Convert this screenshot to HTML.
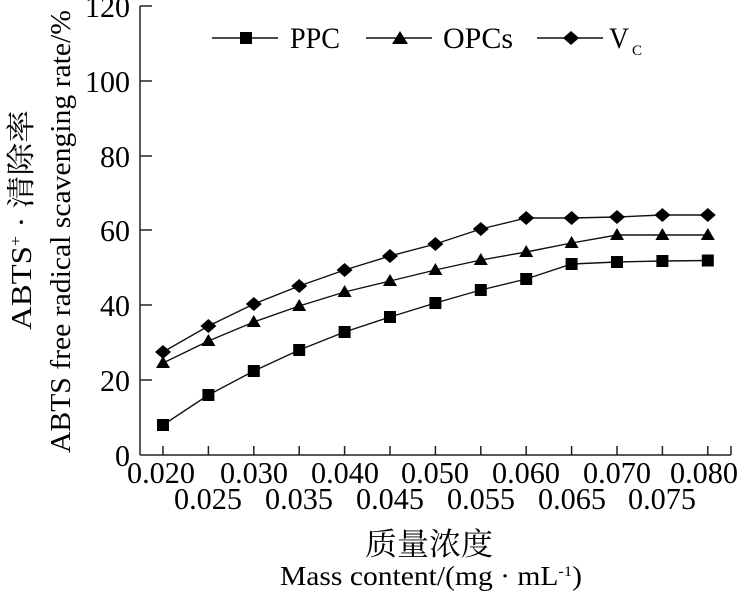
<!DOCTYPE html>
<html><head><meta charset="utf-8"><style>
html,body{margin:0;padding:0;background:#fff;}
svg{display:block;}
text{font-family:"Liberation Serif","Noto Serif CJK SC",serif;fill:#000;}
</style></head><body>
<svg width="748" height="593" viewBox="0 0 748 593" xmlns="http://www.w3.org/2000/svg">
<g stroke="#222" stroke-width="1.5" fill="none">
<line x1="140" y1="6" x2="140" y2="455"/>
<line x1="140" y1="455" x2="731" y2="455"/>
<line x1="140" y1="6" x2="152" y2="6"/>
<line x1="140" y1="81" x2="152" y2="81"/>
<line x1="140" y1="156" x2="152" y2="156"/>
<line x1="140" y1="230" x2="152" y2="230"/>
<line x1="140" y1="305" x2="152" y2="305"/>
<line x1="140" y1="380" x2="152" y2="380"/>
<line x1="163" y1="455" x2="163" y2="446"/>
<line x1="208.4" y1="455" x2="208.4" y2="446"/>
<line x1="253.8" y1="455" x2="253.8" y2="446"/>
<line x1="299.2" y1="455" x2="299.2" y2="446"/>
<line x1="344.6" y1="455" x2="344.6" y2="446"/>
<line x1="390" y1="455" x2="390" y2="446"/>
<line x1="435.4" y1="455" x2="435.4" y2="446"/>
<line x1="480.8" y1="455" x2="480.8" y2="446"/>
<line x1="526.2" y1="455" x2="526.2" y2="446"/>
<line x1="571.6" y1="455" x2="571.6" y2="446"/>
<line x1="617" y1="455" x2="617" y2="446"/>
<line x1="662.4" y1="455" x2="662.4" y2="446"/>
<line x1="707.8" y1="455" x2="707.8" y2="446"/>
<line x1="731" y1="455" x2="731" y2="446"/>
</g>
<g font-size="31" lengthAdjust="spacingAndGlyphs">
<text x="85" y="17" textLength="45" lengthAdjust="spacingAndGlyphs">120</text>
<text x="85" y="92" textLength="45" lengthAdjust="spacingAndGlyphs">100</text>
<text x="100" y="167" textLength="30" lengthAdjust="spacingAndGlyphs">80</text>
<text x="100" y="241" textLength="30" lengthAdjust="spacingAndGlyphs">60</text>
<text x="100" y="316" textLength="30" lengthAdjust="spacingAndGlyphs">40</text>
<text x="100" y="391" textLength="30" lengthAdjust="spacingAndGlyphs">20</text>
<text x="115" y="466" textLength="15" lengthAdjust="spacingAndGlyphs">0</text>
</g>
<g font-size="31">
<text x="127" y="483" textLength="68" lengthAdjust="spacingAndGlyphs">0.020</text>
<text x="220" y="483" textLength="68" lengthAdjust="spacingAndGlyphs">0.030</text>
<text x="311" y="483" textLength="68" lengthAdjust="spacingAndGlyphs">0.040</text>
<text x="401" y="483" textLength="68" lengthAdjust="spacingAndGlyphs">0.050</text>
<text x="492" y="483" textLength="68" lengthAdjust="spacingAndGlyphs">0.060</text>
<text x="583" y="483" textLength="68" lengthAdjust="spacingAndGlyphs">0.070</text>
<text x="670" y="483" textLength="68" lengthAdjust="spacingAndGlyphs">0.080</text>
<text x="174" y="509" textLength="68" lengthAdjust="spacingAndGlyphs">0.025</text>
<text x="265" y="509" textLength="68" lengthAdjust="spacingAndGlyphs">0.035</text>
<text x="356" y="509" textLength="68" lengthAdjust="spacingAndGlyphs">0.045</text>
<text x="447" y="509" textLength="68" lengthAdjust="spacingAndGlyphs">0.055</text>
<text x="538" y="509" textLength="68" lengthAdjust="spacingAndGlyphs">0.065</text>
<text x="628" y="509" textLength="68" lengthAdjust="spacingAndGlyphs">0.075</text>
</g>
<text x="365" y="555" font-size="31" textLength="128" lengthAdjust="spacingAndGlyphs">质量浓度</text>
<text x="280" y="585" font-size="27" textLength="302" lengthAdjust="spacingAndGlyphs">Mass content/(mg · mL<tspan font-size="15" dy="-9">-1</tspan><tspan dy="9">)</tspan></text>
<text transform="translate(31,330) rotate(-90)" font-size="29" textLength="220" lengthAdjust="spacingAndGlyphs">ABTS<tspan font-size="16" dy="-10">+</tspan><tspan dy="10"> · 清除率</tspan></text>
<text transform="translate(70,453) rotate(-90)" font-size="29" textLength="443" lengthAdjust="spacingAndGlyphs">ABTS free radical scavenging rate/%</text>
<g stroke="#111" stroke-width="1.4" fill="none">
<polyline points="163,425 208.4,395 253.8,371 299.2,350 344.6,332 390,317 435.4,303 480.8,290 526.2,279 571.6,264 617,262 662.4,261 707.8,260.5"/>
<polyline points="163,363 208.4,341 253.8,322 299.2,306 344.6,292 390,281 435.4,270 480.8,260 526.2,252 571.6,243 617,235 662.4,235 707.8,235"/>
<polyline points="163,352 208.4,326 253.8,304 299.2,286 344.6,270 390,256 435.4,244 480.8,229 526.2,218 571.6,218 617,217 662.4,215 707.8,215"/>
<line x1="212" y1="38" x2="278" y2="38"/>
<line x1="366" y1="38" x2="432" y2="38"/>
<line x1="537" y1="38" x2="603" y2="38"/>
</g>
<g fill="#000">
<rect x="157" y="419" width="12" height="12"/><rect x="202.4" y="389" width="12" height="12"/><rect x="247.8" y="365" width="12" height="12"/><rect x="293.2" y="344" width="12" height="12"/><rect x="338.6" y="326" width="12" height="12"/><rect x="384" y="311" width="12" height="12"/><rect x="429.4" y="297" width="12" height="12"/><rect x="474.8" y="284" width="12" height="12"/><rect x="520.2" y="273" width="12" height="12"/><rect x="565.6" y="258" width="12" height="12"/><rect x="611" y="256" width="12" height="12"/><rect x="656.4" y="255" width="12" height="12"/><rect x="701.8" y="254.5" width="12" height="12"/>
<rect x="240" y="32" width="12" height="12"/>
</g>
<g fill="#000">
<path d="M163,356l7,12h-14z"/><path d="M208.4,334l7,12h-14z"/><path d="M253.8,315l7,12h-14z"/><path d="M299.2,299l7,12h-14z"/><path d="M344.6,285l7,12h-14z"/><path d="M390,274l7,12h-14z"/><path d="M435.4,263l7,12h-14z"/><path d="M480.8,253l7,12h-14z"/><path d="M526.2,245l7,12h-14z"/><path d="M571.6,236l7,12h-14z"/><path d="M617,228l7,12h-14z"/><path d="M662.4,228l7,12h-14z"/><path d="M707.8,228l7,12h-14z"/>
<path d="M400,31l8,13h-16z"/>
</g>
<g fill="#000">
<path d="M163,345l8,7l-8,7l-8,-7z"/><path d="M208.4,319l8,7l-8,7l-8,-7z"/><path d="M253.8,297l8,7l-8,7l-8,-7z"/><path d="M299.2,279l8,7l-8,7l-8,-7z"/><path d="M344.6,263l8,7l-8,7l-8,-7z"/><path d="M390,249l8,7l-8,7l-8,-7z"/><path d="M435.4,237l8,7l-8,7l-8,-7z"/><path d="M480.8,222l8,7l-8,7l-8,-7z"/><path d="M526.2,211l8,7l-8,7l-8,-7z"/><path d="M571.6,211l8,7l-8,7l-8,-7z"/><path d="M617,210l8,7l-8,7l-8,-7z"/><path d="M662.4,208l8,7l-8,7l-8,-7z"/><path d="M707.8,208l8,7l-8,7l-8,-7z"/>
<path d="M571,31l8,7l-8,7l-8,-7z"/>
</g>
<g font-size="30">
<text x="290" y="48" textLength="50" lengthAdjust="spacingAndGlyphs">PPC</text>
<text x="443" y="48" textLength="70" lengthAdjust="spacingAndGlyphs">OPCs</text>
<text x="609" y="48" textLength="20" lengthAdjust="spacingAndGlyphs">V</text>
<text x="632" y="55" font-size="15">C</text>
</g>
</svg>
</body></html>
